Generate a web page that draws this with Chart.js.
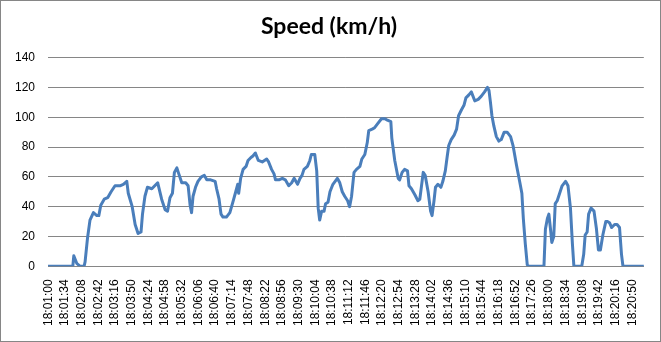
<!DOCTYPE html>
<html>
<head>
<meta charset="utf-8">
<script src="https://cdn.jsdelivr.net/npm/chart.js@4/dist/chart.umd.min.js"></script>
<style>
  html, body { margin: 0; padding: 0; background: #fff; }
  #frame { position: absolute; left: 0; top: 0; width: 659px; height: 340px; border: 1px solid #868686; }
</style>
</head>
<body>
<div id="frame"><canvas id="speed" width="659" height="340"></canvas></div>
<script>
// seconds elapsed since 18:01:00
const seconds = [
  0, 50, 52, 58, 65, 73, 75, 80, 85, 92,
  99, 103, 107, 114, 121, 128, 136, 146, 153, 160,
  163, 171, 177, 183, 189, 192, 197, 202, 211, 217,
  223, 231, 238, 243, 248, 253, 257, 262, 266, 272,
  280, 285, 289, 292, 295, 300, 305, 312, 318, 323,
  331, 340, 343, 348, 352, 356, 363, 370, 377, 382,
  386, 388, 392, 397, 403, 407, 413, 417, 422, 428,
  436, 445, 449, 455, 460, 463, 470, 477, 483, 490,
  496, 501, 508, 513, 517, 521, 528, 533, 536, 543,
  547, 550, 553, 557, 562, 565, 570, 574, 580, 589,
  594, 599, 604, 610, 614, 618, 623, 628, 635, 639,
  645, 650, 653, 660, 665, 672, 679, 686, 691, 698,
  700, 706, 713, 716, 721, 726, 732, 735, 740, 747,
  753, 757, 759, 764, 768, 774, 779, 782, 786, 789,
  794, 800, 804, 809, 813, 816, 821, 827, 832, 836,
  842, 847, 851, 857, 862, 869, 876, 882, 889, 895,
  898, 901, 904, 908, 913, 918, 923, 929, 935, 942,
  947, 954, 961, 965, 968, 972, 976, 979, 1010, 1013,
  1017, 1020, 1024, 1026, 1030, 1033, 1037, 1042, 1047, 1054,
  1059, 1064, 1068, 1071, 1087, 1091, 1094, 1098, 1101, 1106,
  1112, 1117, 1121, 1125, 1130, 1136, 1140, 1144, 1148, 1154,
  1159, 1164, 1168, 1171, 1213
];

const speed = [
  0, 0, 7, 2, 0, 0, 3, 19, 31, 36,
  34, 34, 41, 45, 46, 50, 54, 54, 55, 57,
  49, 40, 28, 22, 23, 35, 47, 53, 52, 54,
  56, 45, 38, 37, 46, 49, 63, 66, 62, 56,
  56, 54, 41, 36, 47, 53, 57, 60, 61, 58,
  58, 57, 52, 45, 35, 33, 33, 36, 44, 50,
  55, 49, 59, 65, 67, 71, 73, 74, 76, 71,
  70, 72, 70, 65, 62, 58, 58, 59, 58, 54,
  56, 59, 55, 59, 61, 65, 67, 71, 75, 75,
  64, 39, 31, 37, 37, 42, 43, 50, 55, 59,
  56, 50, 47, 44, 40, 47, 63, 65, 67, 72,
  75, 83, 91, 92, 93, 96, 99, 99, 98, 97,
  86, 71, 59, 58, 63, 65, 64, 54, 52, 48,
  44, 45, 50, 63, 61, 50, 37, 34, 44, 53,
  55, 53, 57, 64, 74, 81, 85, 88, 92, 101,
  105, 108, 113, 115, 117, 111, 112, 114, 117, 120,
  118, 110, 101, 94, 87, 84, 85, 90, 90, 87,
  81, 68, 56, 49, 32, 15, 1, 0, 0, 25,
  32, 35, 23, 16, 20, 42, 44, 49, 54, 57,
  54, 39, 15, 0, 0, 8, 21, 23, 35, 39,
  37, 25, 11, 11, 21, 30, 30, 29, 26, 28,
  28, 26, 8, 0, 0
];

// one label every 34 s, 18:01:00 .. 18:20:50
const tickSeconds = [
  0, 34, 68, 102, 136, 170, 204, 238, 272, 306, 340, 374,
  408, 442, 476, 510, 544, 578, 612, 646, 680, 714, 748, 782,
  816, 850, 884, 918, 952, 986, 1020, 1054, 1088, 1122, 1156, 1190
];
const startTime = 18 * 3600 + 1 * 60;

const pad = (n) => String(n).padStart(2, '0');
const clock = (s) => {
  const t = startTime + s;
  return `${pad(Math.floor(t / 3600))}:${pad(Math.floor(t / 60) % 60)}:${pad(t % 60)}`;
};

const gridGray = '#868686';

new Chart(document.getElementById('speed'), {
  type: 'line',
  data: {
    datasets: [{
      label: 'Speed (km/h)',
      data: seconds.map((s, i) => ({ x: s, y: speed[i] })),
      borderColor: '#4A7EBB',
      borderWidth: 3,
      pointRadius: 0,
      tension: 0,
      borderJoinStyle: 'round',
      borderCapStyle: 'round',
    }],
  },
  options: {
    responsive: false,
    animation: false,
    layout: { padding: { left: 1, right: 4, top: 0, bottom: 2 } },
    scales: {
      x: {
        type: 'linear',
        min: -0.5,
        max: 1213.5,
        afterBuildTicks: (axis) => {
          axis.ticks = tickSeconds.map((v) => ({ value: v }));
        },
        grid: { display: false, drawTicks: false },
        border: { color: gridGray, width: 1 },
        ticks: {
          autoSkip: false,
          minRotation: 90,
          maxRotation: 90,
          padding: 13,
          color: '#000',
          font: { family: 'Liberation Sans', size: 12 },
          callback: (v) => clock(v),
        },
      },
      y: {
        min: 0,
        max: 140,
        grid: { color: gridGray, drawTicks: false },
        border: { display: false },
        ticks: {
          stepSize: 20,
          padding: 13,
          color: '#000',
          font: { family: 'Liberation Sans', size: 12 },
        },
      },
      // empty spacer on the right so the title centres like the original
      spacer: {
        type: 'linear',
        position: 'right',
        min: 0,
        max: 140,
        grid: { display: false },
        border: { display: false },
        ticks: { display: false },
        afterFit: (axis) => { axis.width = 12; },
      },
    },
    plugins: {
      legend: { display: false },
      tooltip: { enabled: false },
      title: {
        display: true,
        text: 'Speed (km/h)',
        color: '#000',
        font: { family: 'Lato', size: 23, weight: 'bold' },
        padding: { top: 12, bottom: 17 },
      },
    },
  },
});
</script>
</body>
</html>
